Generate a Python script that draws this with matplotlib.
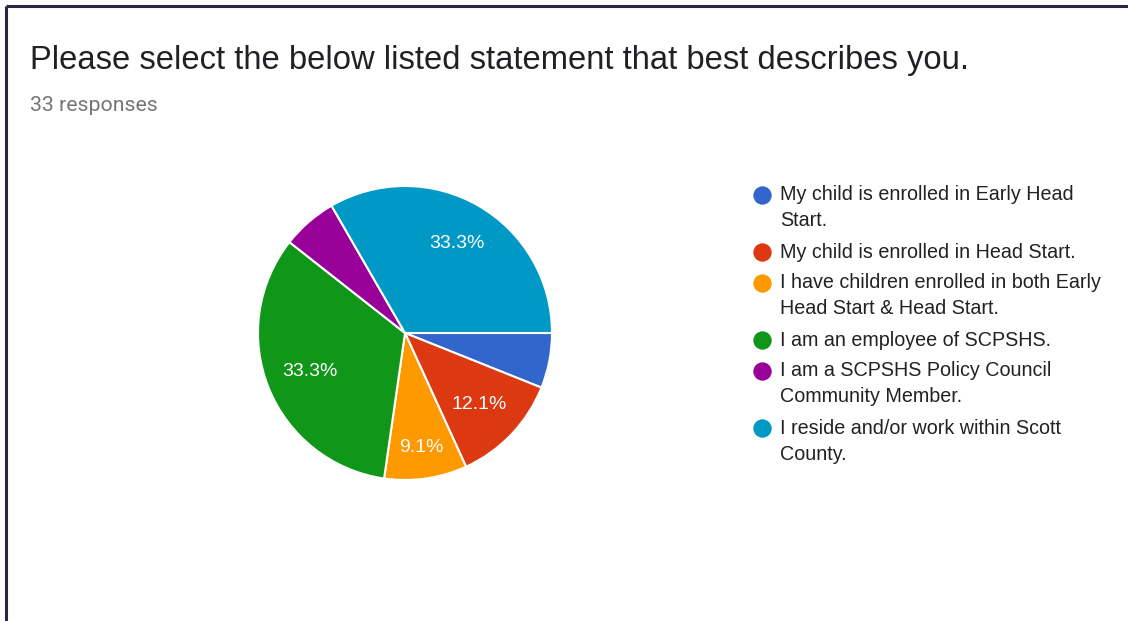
import math
import matplotlib
matplotlib.use("Agg")
import matplotlib.pyplot as plt

# ---- data (counts out of 33 responses) ----
labels = [
    "My child is enrolled in Early Head\nStart.",
    "My child is enrolled in Head Start.",
    "I have children enrolled in both Early\nHead Start & Head Start.",
    "I am an employee of SCPSHS.",
    "I am a SCPSHS Policy Council\nCommunity Member.",
    "I reside and/or work within Scott\nCounty.",
]
counts = [2, 4, 3, 11, 2, 11]
colors = ["#3366cc", "#dc3912", "#ff9900", "#109618", "#990099", "#0099c6"]
title = "Please select the below listed statement that best describes you."
subtitle = "33 responses"

W, H = 1128, 621
fig = plt.figure(figsize=(W / 100, H / 100), dpi=100)
fig.patch.set_facecolor("white")

# frame lines (top and left only, like the screenshot crop)
bg = fig.add_axes([0, 0, 1, 1])
bg.set_xlim(0, W); bg.set_ylim(H, 0); bg.axis("off")
bg.plot([6, W], [6, 6], color="#2a2540", lw=2.2, solid_capstyle="butt")
bg.plot([6, 6], [6, H], color="#2a2540", lw=2.2, solid_capstyle="butt")

bg.text(30, 69, title, fontsize=23.6, family="Liberation Sans", color="#202124", va="baseline")
bg.text(30, 111, subtitle, fontsize=15.3, family="Roboto", color="#757575", va="baseline")

# ---- pie ----
cx, cy, r = 405, 333, 147
ax = fig.add_axes([(cx - r) / W, (H - cy - r) / H, 2 * r / W, 2 * r / H])
total = sum(counts)


def fmt(p):
    return f"{p:.1f}%" if p > 8 else ""


wedges, _, autotexts = ax.pie(
    counts, colors=colors, startangle=0, counterclock=False,
    autopct=fmt, pctdistance=0.7,
    wedgeprops=dict(edgecolor="white", linewidth=1.5),
    textprops=dict(color="white", fontsize=14, family="Liberation Sans"),
)
# smaller slices get their label pushed a little further out
for w, t, c in zip(wedges, autotexts, counts):
    if c / total < 0.10:
        a = math.radians((w.theta1 + w.theta2) / 2)
        t.set_position((0.79 * math.cos(a), 0.79 * math.sin(a)))
ax.set_xlim(-1, 1); ax.set_ylim(-1, 1)
ax.set_aspect("equal")

# ---- legend ----
y = 195
for lab, col in zip(labels, colors):
    lines = lab.split("\n")
    bg.scatter([762], [y], s=175, color=col, zorder=3, linewidths=0)
    for i, ln in enumerate(lines):
        bg.text(780, y + 26 * i, ln, fontsize=14.2, family="Liberation Sans",
                color="#222222", va="center")
    y += 31 + 26 * (len(lines) - 1)

fig.savefig("out.png", dpi=100)
